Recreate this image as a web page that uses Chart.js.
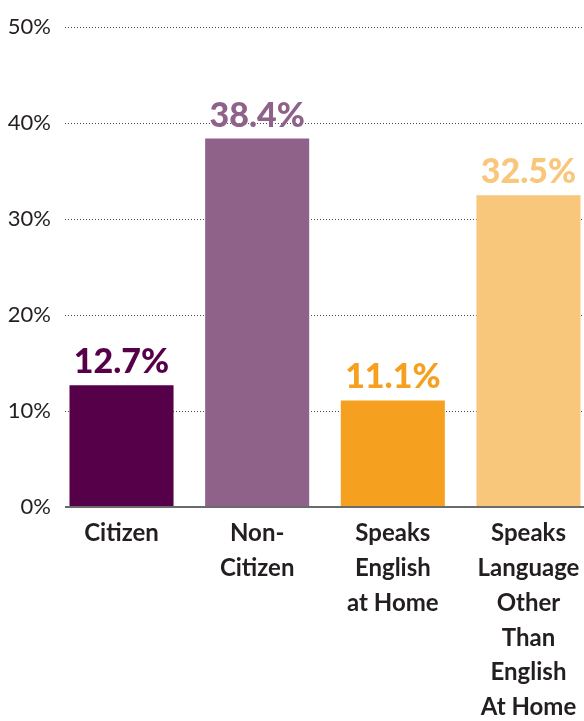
<!DOCTYPE html>
<html>
<head>
<meta charset="utf-8">
<script src="https://cdn.jsdelivr.net/npm/chart.js@4"></script>
<style>
  html, body { margin: 0; padding: 0; background: #fff; overflow: hidden; }
  #wrap { width: 584px; height: 721px; position: relative; }
</style>
</head>
<body>
<div id="wrap"><canvas id="c" width="584" height="721"></canvas></div>
<script>
const categories = [["Citizen"], ["Non-", "Citizen"], ["Speaks", "English", "at Home"], ["Speaks", "Language", "Other", "Than", "English", "At Home"]];
const values = [12.7, 38.4, 11.1, 32.5];
const barColors = ["#56004a", "#8f6389", "#f5a11f", "#f8c77b"];
const yTicks = [0, 10, 20, 30, 40, 50];

const FONT = "Lato, 'Noto Sans', sans-serif";

const shiftX = {
  id: 'shiftX',
  afterLayout(chart) {
    chart.chartArea.right = 584;
    const x = chart.scales.x;
    x.left = 53.7;
    x.right = 596.3;
    x.width = x.right - x.left;
    x.configure();
  }
};

const valueLabels = {
  id: 'valueLabels',
  afterDatasetsDraw(chart) {
    const ctx = chart.ctx;
    const meta = chart.getDatasetMeta(0);
    ctx.save();
    ctx.font = "900 34px " + FONT;
    ctx.textAlign = 'center';
    ctx.textBaseline = 'alphabetic';
    meta.data.forEach((bar, i) => {
      ctx.fillStyle = barColors[i];
      ctx.fillText(values[i].toFixed(1) + '%', bar.x, bar.y - 12);
    });
    ctx.restore();
  }
};

new Chart(document.getElementById('c'), {
  type: 'bar',
  data: {
    labels: categories,
    datasets: [{
      data: values,
      backgroundColor: barColors,
      borderWidth: 0,
      barPercentage: 0.767,
      categoryPercentage: 1
    }]
  },
  options: {
    responsive: false,
    animation: false,
    events: [],
    layout: { padding: { top: 21, left: 0, right: 0, bottom: 0 } },
    plugins: { legend: { display: false }, tooltip: { enabled: false } },
    scales: {
      x: {
        grid: { display: false },
        border: { display: false },
        ticks: {
          autoSkip: false,
          maxRotation: 0,
          minRotation: 0,
          padding: 1,
          color: '#231f20',
          font: { family: FONT, size: 24, weight: 'bold', lineHeight: 1.45 }
        },
        afterFit(scale) { scale.height = 214; scale.paddingLeft = 0; scale.paddingRight = 0; }
      },
      y: {
        min: 0,
        max: 50,
        afterBuildTicks(scale) { scale.ticks = yTicks.map(v => ({ value: v })); },
        afterFit(scale) { scale.width = 65; },
        grid: {
          drawTicks: false,
          color: ctx => ctx.tick && ctx.tick.value === 0 ? '#6b6b6b' : '#4a4a4a',
          lineWidth: ctx => ctx.tick && ctx.tick.value === 0 ? 2 : 1
        },
        border: {
          display: false,
          dash: ctx => ctx.tick && ctx.tick.value === 0 ? [] : [1, 2]
        },
        ticks: {
          padding: 14,
          color: '#231f20',
          font: { family: FONT, size: 22 },
          callback: v => v + '%'
        }
      }
    }
  },
  plugins: [shiftX, valueLabels]
});
</script>
</body>
</html>
